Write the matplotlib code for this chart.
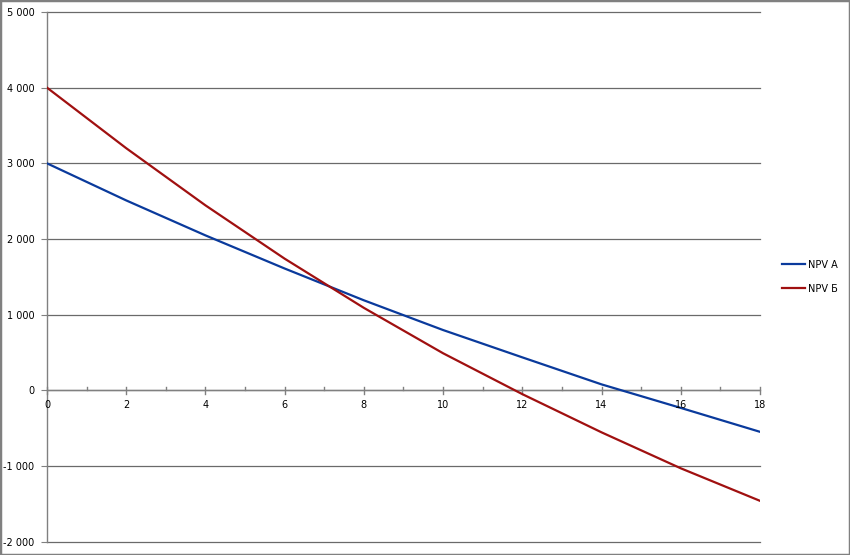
import matplotlib
matplotlib.use("Agg")
import matplotlib.pyplot as plt
from matplotlib.ticker import FuncFormatter, MultipleLocator
from matplotlib.patches import Rectangle

rates = [0, 2, 4, 6, 8, 10, 12, 14, 16, 18]
npv_a = [3000, 2510, 2048, 1610, 1190, 797, 436, 79, -232, -548]
npv_b = [4000, 3200, 2445, 1740, 1090, 490, -50, -555, -1030, -1460]
series_names = ["NPV A", "NPV Б"]
colors = ["#0A3A9C", "#A01010"]

W, H = 850, 555
fig = plt.figure(figsize=(W / 100, H / 100), dpi=100)
x0, x1 = 47, 760
y_top, y_bot = 12, 541.7
ax = fig.add_axes([x0 / W, 1 - y_bot / H, (x1 - x0) / W, (y_bot - y_top) / H])

l1, = ax.plot(rates, npv_a, color=colors[0], lw=1.6, label=series_names[0], zorder=3)
l2, = ax.plot(rates, npv_b, color=colors[1], lw=1.6, label=series_names[1], zorder=3)

ax.set_xlim(0, 18)
ax.set_ylim(-2000, 5000)
ax.yaxis.set_major_locator(MultipleLocator(1000))
ax.xaxis.set_major_locator(MultipleLocator(2))
ax.xaxis.set_minor_locator(MultipleLocator(1))

def fmt(v, pos):
    v = int(round(v))
    s = f"{abs(v):,}".replace(",", " ")
    return ("-" if v < 0 else "") + s

ax.yaxis.set_major_formatter(FuncFormatter(fmt))
ax.grid(axis="y", color="#6a6a6a", lw=0.9, zorder=1)
for gl in ax.get_ygridlines():
    gl.set_clip_on(False)

for s in ["top", "right", "bottom"]:
    ax.spines[s].set_visible(False)
ax.spines["left"].set_color("#808080")
ax.spines["left"].set_linewidth(1.0)

# x axis line at y = 0
ax.axhline(0, color="#808080", lw=1.0, zorder=2)
for xv in range(0, 19):
    if xv % 2 == 0:
        ax.plot([xv, xv], [-45, 45], color="#808080", lw=1.0, zorder=2, clip_on=False)
    else:
        ax.plot([xv, xv], [0, 40], color="#808080", lw=1.0, zorder=2, clip_on=False)
ax.tick_params(axis="x", which="both", length=0, labelbottom=False)
for xv in rates:
    ax.text(xv, -130, str(xv), ha="center", va="top", fontsize=7, color="black",
            family="DejaVu Sans")

ax.tick_params(axis="y", which="major", direction="out", length=4, color="#808080",
               labelsize=7, pad=5)

fig.legend(handles=[l1, l2], labels=series_names, loc="upper left",
           bbox_to_anchor=(778 / W, 1 - 256 / H), frameon=False, fontsize=7,
           handlelength=2.4, handletextpad=0.3, labelspacing=1.4, borderaxespad=0)

fig.patches.append(Rectangle((0, 0), 1, 1, transform=fig.transFigure, fill=False,
                             edgecolor="#808080", lw=2.5))

fig.savefig("out.png", dpi=100)
